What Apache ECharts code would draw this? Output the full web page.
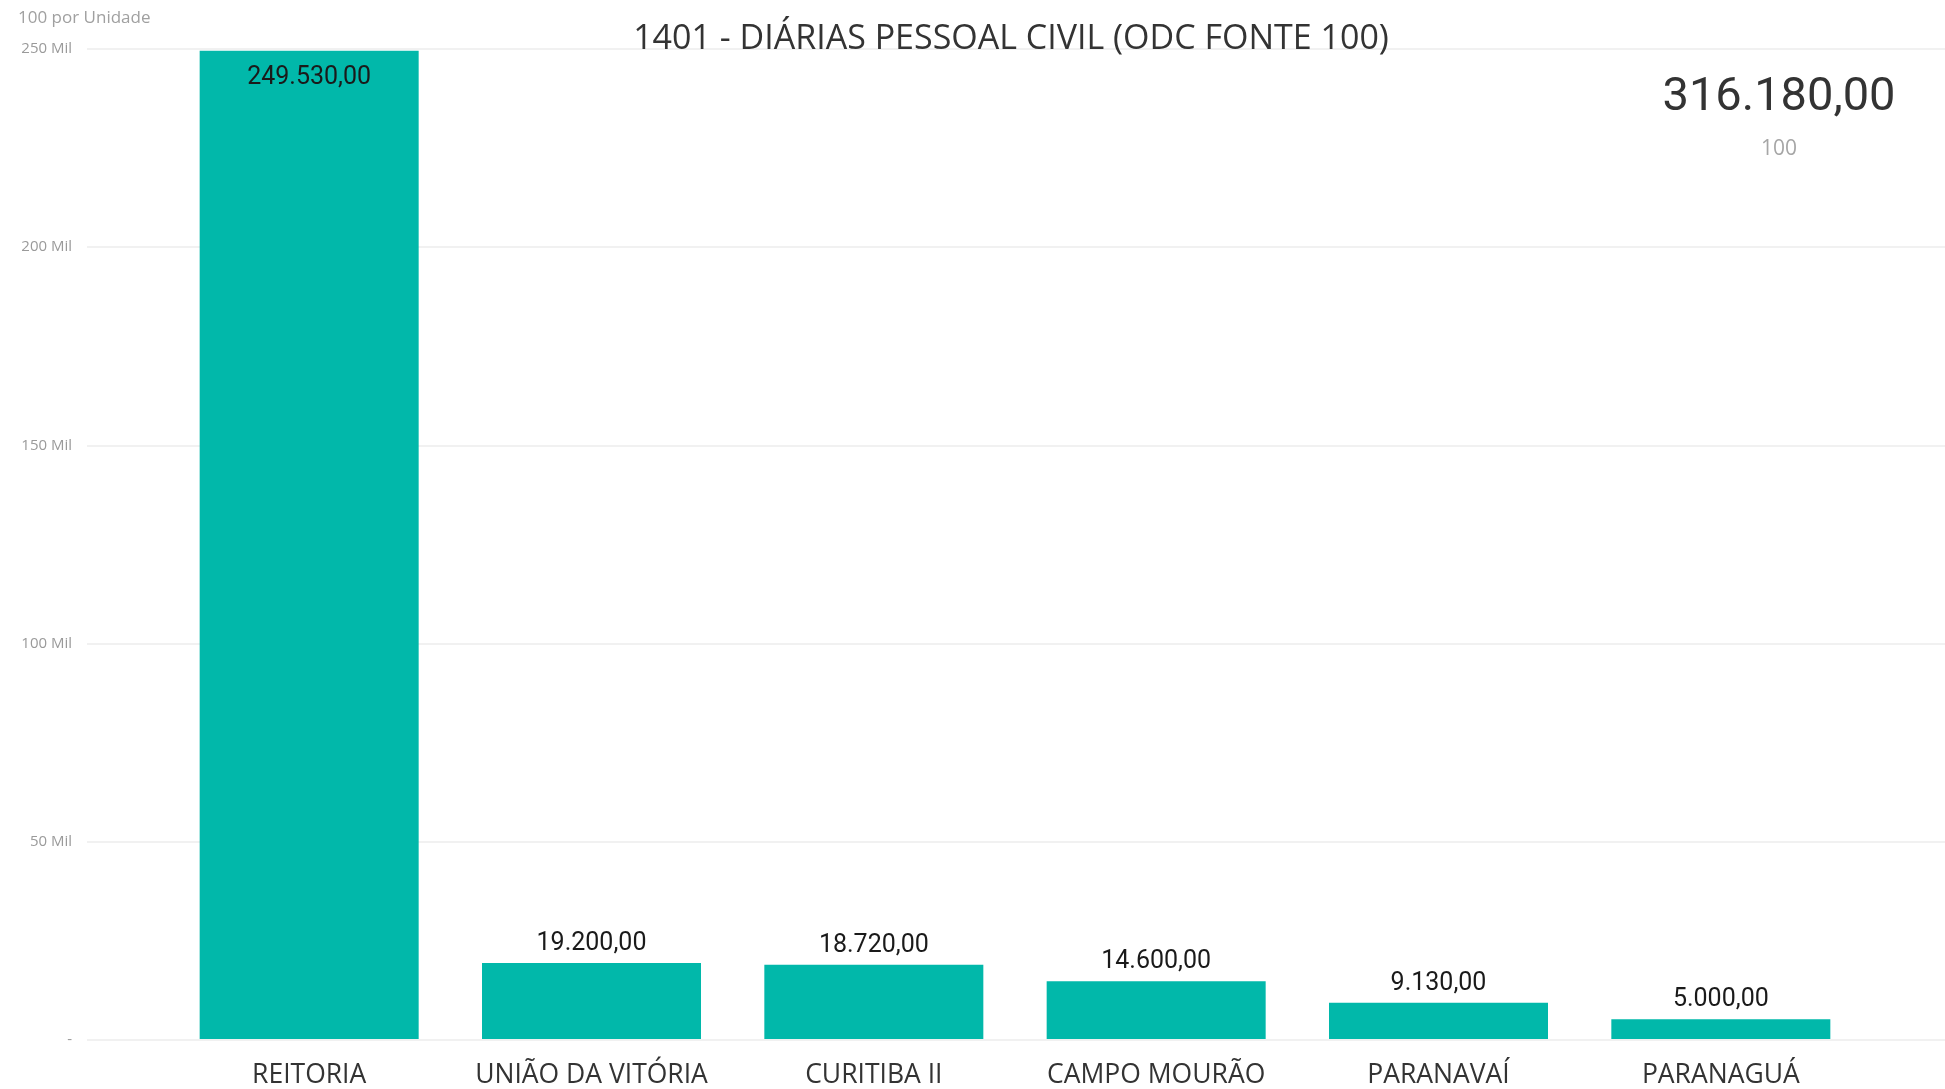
<!DOCTYPE html>
<html>
<head>
<meta charset="utf-8">
<title>1401 - DIÁRIAS PESSOAL CIVIL</title>
<script src="https://cdn.jsdelivr.net/npm/echarts@6/dist/echarts.min.js"></script>
<style>
  html, body { margin: 0; padding: 0; background: #fff; }
  #main { width: 1945px; height: 1089px; }
</style>
</head>
<body>
<div id="main"></div>
<script>
// dados por unidade (fonte 100)
var unidades = ['REITORIA', 'UNIÃO DA VITÓRIA', 'CURITIBA II', 'CAMPO MOURÃO', 'PARANAVAÍ', 'PARANAGUÁ'];
var valores = [249530, 19200, 18720, 14600, 9130, 5000];
var eixoMin = 0;
var eixoMax = 250000;
var eixoPasso = 50000;
var fonte = '100';

var total = 0;
for (var i = 0; i < valores.length; i++) {
  total += valores[i];
}

// formato brasileiro 249.530,00
function formatBR(v) {
  var s = Math.round(v).toString();
  s = s.replace(/\B(?=(\d{3})+(?!\d))/g, '.');
  return s + ',00';
}

// a barra maior leva o rotulo dentro, no topo
var dadosBarras = valores.map(function (v, idx) {
  if (idx === 0) {
    return { value: v, label: { position: 'insideTop', distance: 14 } };
  }
  return v;
});

var chart = echarts.init(document.getElementById('main'), null, { renderer: 'canvas' });

var option = {
  animation: false,
  backgroundColor: '#ffffff',
  title: [
    {
      text: '1401 - DIÁRIAS PESSOAL CIVIL (ODC FONTE 100)',
      left: 1006,
      top: 17,
      textAlign: 'center',
      textStyle: { fontFamily: 'Open Sans', fontWeight: 'normal', fontSize: 34, color: '#333333' }
    },
    {
      text: fonte + ' por Unidade',
      left: 13,
      top: 5,
      textStyle: { fontFamily: 'Open Sans', fontWeight: 'normal', fontSize: 17, color: '#a0a0a0' }
    },
    {
      text: formatBR(total),
      left: 1774,
      top: 70,
      textAlign: 'center',
      textStyle: { fontFamily: 'Roboto', fontWeight: 'normal', fontSize: 47, color: '#333333' }
    },
    {
      text: fonte,
      left: 1774,
      top: 134,
      textAlign: 'center',
      textStyle: { fontFamily: 'Open Sans', fontWeight: 'normal', fontSize: 21, color: '#a6a6a6' }
    }
  ],
  grid: [
    // grade de fundo (linhas + rotulos do eixo y)
    { left: 87, right: 0, top: 49, bottom: 49, containLabel: false },
    // barras
    { left: 168, right: 83, top: 49, bottom: 49, containLabel: false }
  ],
  xAxis: [
    { gridIndex: 0, type: 'value', show: false, min: 0, max: 1 },
    {
      gridIndex: 1,
      type: 'category',
      data: unidades,
      axisLine: { show: false },
      axisTick: { show: false },
      axisLabel: {
        interval: 0,
        hideOverlap: false,
        margin: 23,
        fontFamily: 'Open Sans',
        fontSize: 26.5,
        color: '#333333'
      }
    }
  ],
  yAxis: [
    {
      gridIndex: 0,
      type: 'value',
      min: eixoMin,
      max: eixoMax,
      interval: eixoPasso,
      axisLine: { show: false },
      axisTick: { show: false },
      splitLine: { lineStyle: { color: '#ececec', width: 1.5 } },
      axisLabel: {
        margin: 15,
        fontFamily: 'Open Sans',
        fontSize: 15,
        color: '#9a9a9a',
        formatter: function (v) {
          if (v === 0) return '-';
          return (v / 1000) + ' Mil';
        }
      }
    },
    {
      gridIndex: 1,
      type: 'value',
      min: eixoMin,
      max: eixoMax,
      interval: eixoPasso,
      show: false,
      splitLine: { show: false }
    }
  ],
  series: [
    {
      type: 'bar',
      xAxisIndex: 1,
      yAxisIndex: 1,
      data: dadosBarras,
      barWidth: 219,
      itemStyle: { color: '#01B8AA' },
      label: {
        show: true,
        position: 'top',
        distance: 7,
        fontFamily: 'Roboto',
        fontSize: 25,
        color: '#1a1a1a',
        formatter: function (p) { return formatBR(p.value); }
      }
    }
  ]
};

chart.setOption(option);
</script>
</body>
</html>
